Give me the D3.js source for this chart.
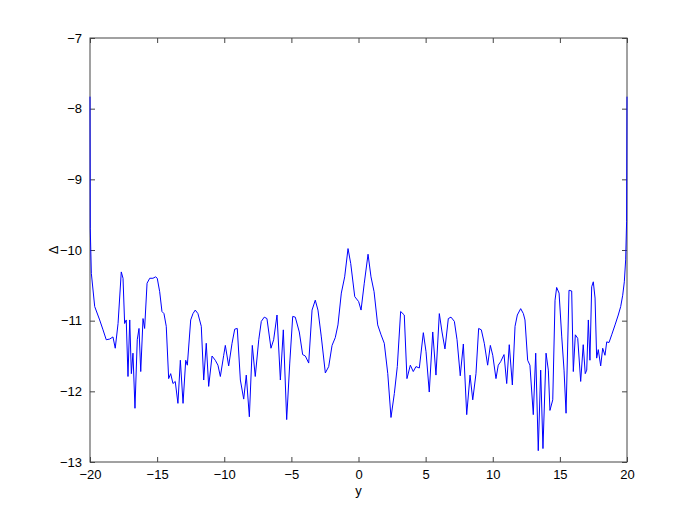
<!DOCTYPE html>
<html><head><meta charset="utf-8">
<script src="https://cdn.jsdelivr.net/npm/d3@7"></script>
<style>
html,body{margin:0;padding:0;background:#fff;}
text{font-family:"Liberation Sans",Arial,Helvetica,sans-serif;}
</style></head>
<body><svg id="c" width="692" height="520"></svg>
<script>
const xValues = [-20,-19.98,-19.9,-19.65,-19.28,-19.03,-18.79,-18.53,-18.29,-18.12,-17.91,-17.67,-17.54,-17.42,-17.30,-17.17,-17.04,-16.92,-16.80,-16.65,-16.48,-16.35,-16.22,-16.05,-15.93,-15.75,-15.55,-15.31,-15.11,-14.99,-14.81,-14.64,-14.49,-14.32,-14.14,-13.99,-13.82,-13.65,-13.45,-13.27,-13.07,-12.87,-12.75,-12.50,-12.33,-12.16,-11.96,-11.71,-11.53,-11.34,-11.16,-10.91,-10.67,-10.47,-10.29,-10.04,-9.92,-9.67,-9.42,-9.22,-9.03,-8.80,-8.55,-8.36,-8.13,-7.91,-7.69,-7.43,-7.24,-7.02,-6.82,-6.52,-6.32,-6.07,-5.82,-5.60,-5.35,-5.12,-4.90,-4.71,-4.41,-4.16,-3.96,-3.71,-3.46,-3.22,-3.02,-2.77,-2.47,-2.22,-1.97,-1.73,-1.53,-1.28,-1.03,-0.78,-0.58,-0.28,0.01,0.19,0.43,0.71,0.93,1.16,1.43,1.68,1.92,2.18,2.42,2.67,2.89,3.14,3.41,3.61,3.86,4.08,4.28,4.53,4.83,5.03,5.27,5.53,5.77,6.02,6.22,6.44,6.69,6.89,7.14,7.34,7.58,7.81,8.06,8.31,8.51,8.75,8.95,9.15,9.37,9.62,9.82,10.00,10.24,10.41,10.59,10.84,11.04,11.23,11.46,11.66,11.83,12.08,12.28,12.40,12.60,12.77,13.02,13.20,13.39,13.57,13.74,13.97,14.14,14.26,14.47,14.64,14.76,14.94,15.14,15.31,15.46,15.68,15.88,16.00,16.15,16.33,16.55,16.74,16.89,17.00,17.12,17.24,17.37,17.49,17.62,17.74,17.86,18.04,18.19,18.36,18.49,18.66,18.86,19.11,19.35,19.53,19.68,19.80,19.90,19.97,20];
const deltaValues = [-7.83,-9.7,-10.33,-10.80,-10.99,-11.13,-11.27,-11.26,-11.23,-11.39,-11.04,-10.31,-10.40,-11.04,-10.99,-11.79,-10.99,-11.75,-11.46,-12.24,-11.27,-11.11,-11.72,-10.97,-11.11,-10.47,-10.40,-10.40,-10.38,-10.40,-10.59,-10.87,-10.90,-11.08,-11.82,-11.75,-11.89,-11.86,-12.17,-11.56,-12.17,-11.56,-11.63,-10.99,-10.90,-10.85,-10.90,-11.08,-11.84,-11.32,-11.93,-11.50,-11.56,-11.63,-11.79,-11.49,-11.35,-11.64,-11.32,-11.12,-11.11,-11.84,-12.11,-11.77,-12.36,-11.35,-11.79,-11.27,-11.01,-10.95,-10.97,-11.39,-11.27,-10.92,-11.84,-11.13,-12.40,-11.60,-10.94,-10.95,-11.16,-11.48,-11.50,-11.60,-10.85,-10.71,-10.85,-11.23,-11.74,-11.65,-11.35,-11.24,-11.06,-10.61,-10.38,-9.98,-10.19,-10.66,-10.73,-10.85,-10.47,-10.06,-10.38,-10.59,-11.06,-11.20,-11.32,-11.75,-12.37,-12.03,-11.65,-10.87,-10.92,-11.82,-11.63,-11.72,-11.65,-11.67,-11.17,-11.44,-12.01,-11.16,-11.77,-10.90,-11.16,-11.40,-10.97,-10.95,-11.01,-11.27,-11.78,-11.33,-12.33,-11.77,-12.12,-11.75,-11.11,-11.13,-11.32,-11.63,-11.35,-11.49,-11.82,-11.63,-11.58,-11.48,-11.89,-11.34,-11.91,-11.08,-10.92,-10.83,-10.90,-10.99,-11.56,-11.63,-12.33,-11.46,-12.84,-11.70,-12.81,-11.46,-11.70,-12.27,-12.12,-10.71,-10.53,-10.61,-11.23,-11.70,-12.31,-10.57,-10.58,-11.72,-11.20,-11.25,-11.86,-11.34,-11.75,-11.70,-10.99,-11.56,-10.52,-10.45,-10.68,-11.53,-11.41,-11.64,-11.39,-11.49,-11.30,-11.31,-11.20,-11.06,-10.92,-10.80,-10.64,-10.45,-10.14,-9.6,-7.83];
const xTicks = [-20,-15,-10,-5,0,5,10,15,20];
const yTicks = [-7,-8,-9,-10,-11,-12,-13];
const xLabel = "y";
const yLabel = "Δ";

const svg = d3.select("#c");
const L = 90, R = 627, T = 38, B = 462;
const x = d3.scaleLinear().domain([-20,20]).range([L,R]);
const y = d3.scaleLinear().domain([-13,-7]).range([B,T]);
const fmt = d => (d < 0 ? "\u2212" + Math.abs(d) : String(d));
const axisColor = "#444";

function styleAxis(g, hideText){
  g.select(".domain").remove();
  g.selectAll(".tick line").attr("stroke", axisColor).attr("stroke-width", 1);
  g.selectAll(".tick text").attr("fill", "#000").style("font-size", "13px")
    .style("font-family", '"Liberation Sans", Arial, sans-serif');
  if (hideText) g.selectAll(".tick text").remove();
}

svg.append("g").attr("transform", `translate(0,${B})`)
  .call(d3.axisBottom(x).tickValues(xTicks).tickSize(-5).tickPadding(8).tickFormat(fmt))
  .call(g => styleAxis(g, false));
svg.append("g").attr("transform", `translate(0,${T})`)
  .call(d3.axisTop(x).tickValues(xTicks).tickSize(-5).tickFormat(fmt))
  .call(g => styleAxis(g, true));
svg.append("g").attr("transform", `translate(${L},0)`)
  .call(d3.axisLeft(y).tickValues(yTicks).tickSize(-5).tickPadding(8).tickFormat(fmt))
  .call(g => styleAxis(g, false));
svg.append("g").attr("transform", `translate(${R},0)`)
  .call(d3.axisRight(y).tickValues(yTicks).tickSize(-5).tickFormat(fmt))
  .call(g => styleAxis(g, true));

svg.append("rect").attr("x", L).attr("y", T).attr("width", R-L).attr("height", B-T)
  .attr("fill", "none").attr("stroke", axisColor).attr("stroke-width", 1);

const data = xValues.map((v,i) => ({x: v, d: deltaValues[i]}));
svg.append("path").datum(data)
  .attr("fill", "none").attr("stroke", "#0000ff").attr("stroke-width", 1)
  .attr("stroke-linejoin", "round")
  .attr("d", d3.line().x(d => x(d.x)).y(d => y(d.d)));

svg.append("text").attr("x", (L+R)/2).attr("y", 495).attr("text-anchor", "middle")
  .style("font-size", "13px").text(xLabel);
svg.append("text").attr("transform", `translate(58,${(T+B)/2}) rotate(-90)`)
  .attr("text-anchor", "middle").style("font-size", "13px").text(yLabel);
</script></body></html>
